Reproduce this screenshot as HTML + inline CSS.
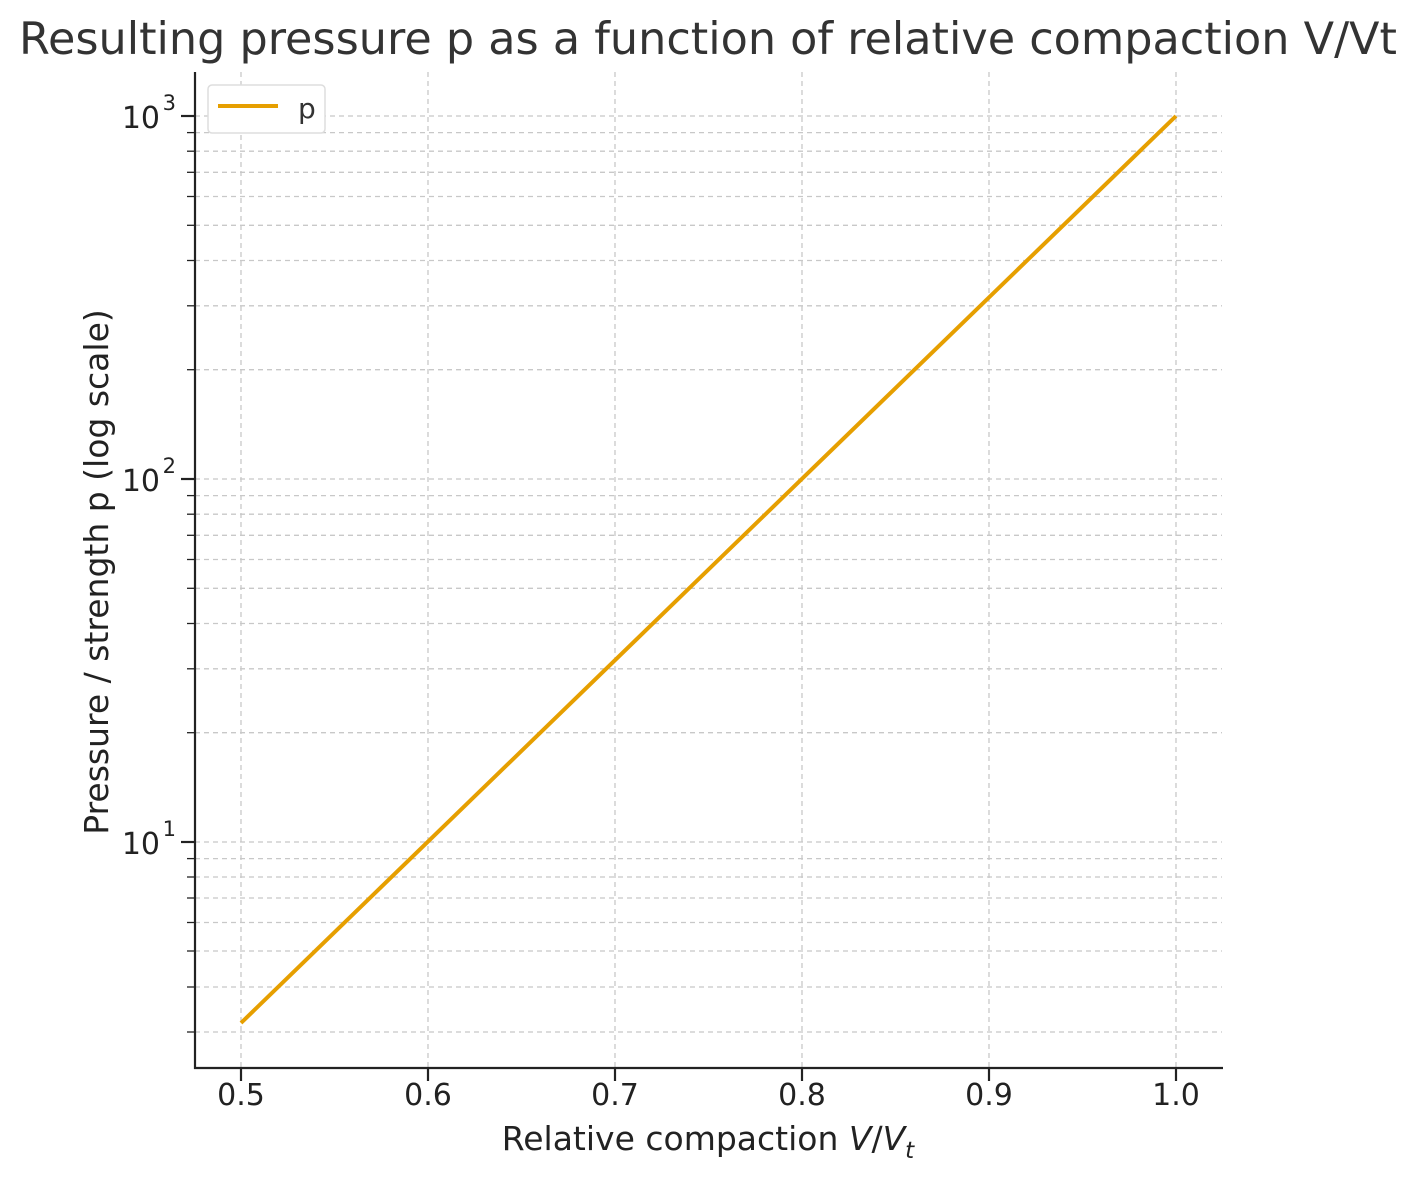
<!DOCTYPE html>
<html><head><meta charset="utf-8"><style>body{margin:0;background:#fff}svg{display:block}</style></head>
<body>
<svg width="1417" height="1180" xmlns="http://www.w3.org/2000/svg" font-family="DejaVu Sans, Liberation Sans, sans-serif">
<rect width="1417" height="1180" fill="#fff"/>
<text x="708" y="54" text-anchor="middle" font-size="44.5" fill="#333">Resulting pressure p as a function of relative compaction V/Vt</text>
<g stroke="#c8c8c8" stroke-width="1.3" stroke-dasharray="5,4">
<line x1="241" y1="72" x2="241" y2="1068"/><line x1="428" y1="72" x2="428" y2="1068"/><line x1="615" y1="72" x2="615" y2="1068"/><line x1="802" y1="72" x2="802" y2="1068"/><line x1="989" y1="72" x2="989" y2="1068"/><line x1="1176" y1="72" x2="1176" y2="1068"/>
<line x1="195" y1="116" x2="1222" y2="116"/><line x1="195" y1="479" x2="1222" y2="479"/><line x1="195" y1="842" x2="1222" y2="842"/>
<line x1="195" y1="1032" x2="1222" y2="1032"/><line x1="195" y1="987" x2="1222" y2="987"/><line x1="195" y1="951" x2="1222" y2="951"/><line x1="195" y1="922.5" x2="1222" y2="922.5"/><line x1="195" y1="898" x2="1222" y2="898"/><line x1="195" y1="877" x2="1222" y2="877"/><line x1="195" y1="858.6" x2="1222" y2="858.6"/>
<line x1="195" y1="732.7" x2="1222" y2="732.7"/><line x1="195" y1="668.8" x2="1222" y2="668.8"/><line x1="195" y1="623.5" x2="1222" y2="623.5"/><line x1="195" y1="588.3" x2="1222" y2="588.3"/><line x1="195" y1="559.5" x2="1222" y2="559.5"/><line x1="195" y1="535.3" x2="1222" y2="535.3"/><line x1="195" y1="514.2" x2="1222" y2="514.2"/><line x1="195" y1="495.6" x2="1222" y2="495.6"/>
<line x1="195" y1="369.7" x2="1222" y2="369.7"/><line x1="195" y1="305.8" x2="1222" y2="305.8"/><line x1="195" y1="260.5" x2="1222" y2="260.5"/><line x1="195" y1="225.3" x2="1222" y2="225.3"/><line x1="195" y1="196.5" x2="1222" y2="196.5"/><line x1="195" y1="172.3" x2="1222" y2="172.3"/><line x1="195" y1="151.2" x2="1222" y2="151.2"/><line x1="195" y1="132.6" x2="1222" y2="132.6"/>
</g>
<g stroke="#222" stroke-width="1.3">
<line x1="187" y1="1032" x2="195" y2="1032"/><line x1="187" y1="987" x2="195" y2="987"/><line x1="187" y1="951" x2="195" y2="951"/><line x1="187" y1="922.5" x2="195" y2="922.5"/><line x1="187" y1="898" x2="195" y2="898"/><line x1="187" y1="877" x2="195" y2="877"/><line x1="187" y1="858.6" x2="195" y2="858.6"/>
<line x1="187" y1="732.7" x2="195" y2="732.7"/><line x1="187" y1="668.8" x2="195" y2="668.8"/><line x1="187" y1="623.5" x2="195" y2="623.5"/><line x1="187" y1="588.3" x2="195" y2="588.3"/><line x1="187" y1="559.5" x2="195" y2="559.5"/><line x1="187" y1="535.3" x2="195" y2="535.3"/><line x1="187" y1="514.2" x2="195" y2="514.2"/><line x1="187" y1="495.6" x2="195" y2="495.6"/>
<line x1="187" y1="369.7" x2="195" y2="369.7"/><line x1="187" y1="305.8" x2="195" y2="305.8"/><line x1="187" y1="260.5" x2="195" y2="260.5"/><line x1="187" y1="225.3" x2="195" y2="225.3"/><line x1="187" y1="196.5" x2="195" y2="196.5"/><line x1="187" y1="172.3" x2="195" y2="172.3"/><line x1="187" y1="151.2" x2="195" y2="151.2"/><line x1="187" y1="132.6" x2="195" y2="132.6"/>
</g>
<g stroke="#222" stroke-width="2.2">
<line x1="181" y1="116" x2="195" y2="116"/><line x1="181" y1="479" x2="195" y2="479"/><line x1="181" y1="842" x2="195" y2="842"/>
<line x1="241" y1="1068" x2="241" y2="1081"/><line x1="428" y1="1068" x2="428" y2="1081"/><line x1="615" y1="1068" x2="615" y2="1081"/><line x1="802" y1="1068" x2="802" y2="1081"/><line x1="989" y1="1068" x2="989" y2="1081"/><line x1="1176" y1="1068" x2="1176" y2="1081"/>
<line x1="195" y1="72" x2="195" y2="1069"/><line x1="194" y1="1068" x2="1223" y2="1068"/>
</g>
<line x1="241" y1="1023" x2="1176" y2="116" stroke="#e69f00" stroke-width="4"/>
<g font-size="30" fill="#222" text-anchor="middle">
<text x="241" y="1105">0.5</text><text x="428" y="1105">0.6</text><text x="615" y="1105">0.7</text><text x="802" y="1105">0.8</text><text x="989" y="1105">0.9</text><text x="1176" y="1105">1.0</text>
</g>
<g font-size="30" fill="#222" text-anchor="end">
<text x="160" y="128">10</text><text x="176" y="110" font-size="21">3</text>
<text x="160" y="491">10</text><text x="176" y="473" font-size="21">2</text>
<text x="160" y="854">10</text><text x="176" y="836" font-size="21">1</text>
</g>
<text x="708" y="1150" text-anchor="middle" font-size="33" fill="#222">Relative compaction <tspan font-style="italic">V</tspan>/<tspan font-style="italic">V</tspan><tspan font-style="italic" font-size="23" dy="8">t</tspan></text>
<text transform="translate(108,572) rotate(-90)" text-anchor="middle" font-size="33" fill="#222">Pressure / strength p (log scale)</text>
<rect x="208" y="85" width="117" height="48" rx="4" fill="#fff" stroke="#ddd" stroke-width="1.5"/>
<line x1="218" y1="106" x2="278" y2="106" stroke="#e69f00" stroke-width="4"/>
<text x="298" y="118" font-size="28" fill="#333">p</text>
</svg>
</body></html>
